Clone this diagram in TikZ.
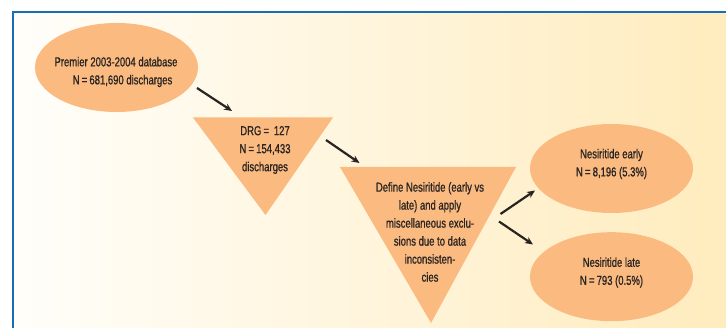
\documentclass[tikz,border=0pt]{standalone}
\usepackage{fontspec}
\setmainfont{Liberation Sans}[FakeStretch=0.73,FakeBold=0.8]
\usetikzlibrary{arrows.meta,shapes.geometric}
\definecolor{frameblue}{RGB}{24,110,178}
\definecolor{bgleft}{RGB}{255,254,250}
\definecolor{bgright}{RGB}{255,236,190}
\definecolor{boxorange}{RGB}{251,186,128}
\definecolor{txt}{RGB}{40,36,34}
\tikzset{
  blob/.style={ellipse, fill=boxorange, minimum width=163pt, minimum height=89pt, inner sep=0pt},
  lbl/.style={text=txt, font=\fontsize{13}{18}\selectfont, align=center, inner sep=0pt},
  arr/.style={draw=txt, line width=2.2pt, -{Stealth[length=8pt,width=7pt]}},
  tri/.style={fill=boxorange}
}
\begin{document}
\begin{tikzpicture}[x=1pt,y=-1pt]
\useasboundingbox (0,0) rectangle (726,328);
\fill[white] (0,0) rectangle (726,328);
\shade[left color=bgleft, right color=bgright] (13,12) rectangle (726,328);
\draw[frameblue, line width=2pt] (13,328) -- (13,12) -- (726,12);
% ellipses
\node[blob] (e1) at (116.5,67.5) {};
\node[lbl] (t1) at (116,72) {Premier 2003-2004 database\\\hspace*{13pt}N\,=\,681,690 discharges};
\node[blob] (e2) at (611.5,168.5) {};
\node[lbl] (t2) at (611.5,164) {Nesiritide early\\N\,=\,8,196 (5.3\%)};
\node[blob] (e3) at (611.5,276.7) {};
\node[lbl] (t3) at (611.5,272.5) {Nesiritide late\\N\,=\,793 (0.5\%)};
% triangles
\coordinate (a1) at (193,117.5);
\coordinate (b1) at (333,117.5);
\coordinate (c1) at (265.5,215);
\fill[tri] (a1) -- (b1) -- (c1) -- cycle;
\node[lbl] (d1) at (265,150) {DRG\,=\, 127\\N\,=\,154,433\\discharges};
\coordinate (a2) at (340,167);
\coordinate (b2) at (516,167);
\coordinate (c2) at (431,323);
\fill[tri] (a2) -- (b2) -- (c2) -- cycle;
\node[lbl] (d2) at (430,232) {Define Nesiritide (early vs\\late) and apply\\miscellaneous exclu-\\sions due to data\\inconsisten-\\cies};
% arrows
\coordinate (s1) at (197,88);
\coordinate (f1) at (232,111);
\coordinate (s2) at (326,140);
\coordinate (f2) at (359.5,163);
\coordinate (s3) at (500.5,214);
\coordinate (f3) at (535,190.5);
\coordinate (s4) at (499,221.5);
\coordinate (f4) at (533,244.5);
\draw[arr] (s1) -- (f1);
\draw[arr] (s2) -- (f2);
\draw[arr] (s3) -- (f3);
\draw[arr] (s4) -- (f4);
\end{tikzpicture}
\end{document}
